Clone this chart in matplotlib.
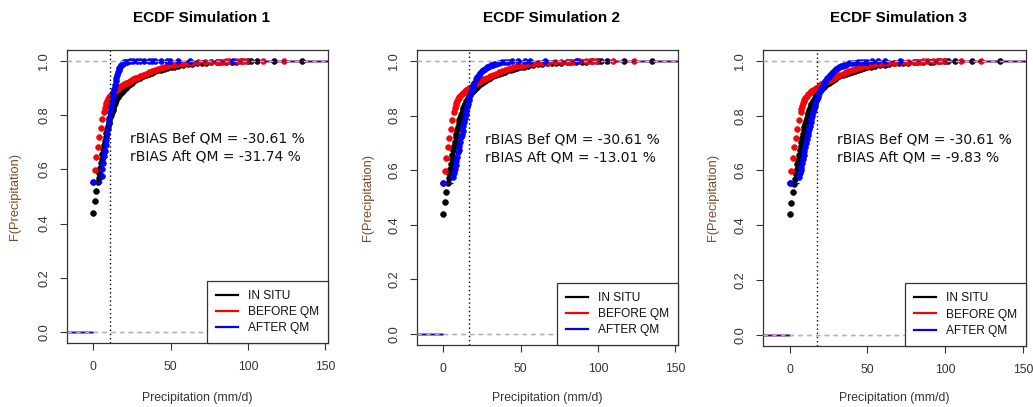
import matplotlib
matplotlib.use("Agg")
import matplotlib.pyplot as plt
from matplotlib.lines import Line2D

plt.rcParams['font.family'] = ['Liberation Sans', 'DejaVu Sans']

# ---------------- data ----------------
titles = ["ECDF Simulation 1", "ECDF Simulation 2", "ECDF Simulation 3"]
legend_labels = ["IN SITU", "BEFORE QM", "AFTER QM"]
series_colors = ["#000000", "#FF0000", "#0000FF"]

# IN SITU ECDF knots (same in every panel)
insitu_x = [0, 1, 2, 3, 3.5, 4, 4.5, 5, 5.5, 6, 6.5, 7, 7.5, 8, 8.5, 9, 9.5, 10,
            10.5, 11, 11.5, 12, 12.5, 13, 13.5, 14, 15, 16, 17, 18, 19, 20, 21,
            22, 23, 24, 25, 26, 27, 28, 29, 30, 32, 34, 36, 38, 40, 42, 44, 46,
            48, 50, 52, 55, 58, 61, 64, 67, 70, 73, 76, 80, 82, 86, 90, 92, 96,
            100, 102, 106, 117, 135]
insitu_F = [0.440, 0.483, 0.521, 0.552, 0.570, 0.588, 0.605, 0.622, 0.640, 0.657,
            0.674, 0.690, 0.705, 0.720, 0.734, 0.747, 0.759, 0.771, 0.782, 0.792,
            0.802, 0.811, 0.820, 0.828, 0.836, 0.843, 0.855, 0.865, 0.874, 0.882,
            0.889, 0.895, 0.901, 0.906, 0.911, 0.916, 0.920, 0.924, 0.928, 0.932,
            0.935, 0.938, 0.944, 0.949, 0.953, 0.957, 0.961, 0.965, 0.968, 0.971,
            0.974, 0.977, 0.979, 0.982, 0.985, 0.987, 0.989, 0.991, 0.992, 0.993,
            0.994, 0.995, 0.996, 0.9965, 0.997, 0.9975, 0.998, 0.9985, 0.999,
            0.9995, 0.9998, 1.0]

# BEFORE QM ECDF knots (same in every panel)
before_x = [0, 1, 2, 3, 4, 5, 6, 7, 7.5, 8, 8.5, 9, 9.5, 10, 10.5, 11, 12, 13,
            14, 15, 16, 17, 18, 19, 20, 21, 22, 23, 24, 25, 26, 27, 28, 30, 32,
            34, 36, 38, 40, 42, 44, 46, 48, 50, 52, 55, 58, 61, 64, 68, 72, 76,
            80, 82, 84, 86, 88, 92, 95, 97, 99, 110, 123]
before_F = [0.553, 0.598, 0.645, 0.684, 0.719, 0.752, 0.785, 0.813, 0.826, 0.837,
            0.846, 0.853, 0.859, 0.864, 0.868, 0.872, 0.878, 0.884, 0.889, 0.894,
            0.898, 0.902, 0.906, 0.910, 0.914, 0.917, 0.920, 0.923, 0.926, 0.929,
            0.932, 0.935, 0.938, 0.943, 0.948, 0.953, 0.958, 0.962, 0.966, 0.970,
            0.974, 0.977, 0.980, 0.983, 0.985, 0.988, 0.990, 0.992, 0.993, 0.994,
            0.995, 0.996, 0.9965, 0.997, 0.9975, 0.998, 0.9985, 0.999, 0.9992,
            0.9994, 0.9996, 0.9998, 1.0]

# AFTER QM ECDF knots, one list per simulation
after1_x = [0, 5.5, 6, 6.5, 7, 7.5, 8, 8.5, 9, 9.5, 10, 10.5, 11, 11.5, 12, 12.5,
            13, 13.5, 14, 14.5, 15, 15.5, 16, 16.5, 17, 17.5, 18, 19, 20, 21, 22,
            24, 26, 28, 30, 33, 36, 38, 40, 44, 47.5, 49.6, 55, 62.6, 90.4]
after1_F = [0.553, 0.575, 0.600, 0.625, 0.648, 0.668, 0.690, 0.710, 0.730, 0.750,
            0.770, 0.790, 0.810, 0.830, 0.848, 0.866, 0.882, 0.897, 0.912, 0.925,
            0.937, 0.948, 0.958, 0.966, 0.973, 0.979, 0.984, 0.990, 0.994, 0.996,
            0.997, 0.998, 0.9984, 0.9987, 0.999, 0.9992, 0.9994, 0.9995, 0.9996,
            0.9997, 0.9998, 0.9998, 0.9999, 0.9999, 1.0]

after2_x = [0, 6.5, 7, 7.5, 8, 8.5, 9, 9.5, 10, 10.5, 11, 11.5, 12, 12.5, 13, 13.5,
            14, 14.5, 15, 15.5, 16, 16.5, 17, 17.5, 18, 18.5, 19, 19.5, 20, 21, 22,
            23, 24, 25, 26, 27, 28, 29, 30, 31, 32, 33, 34, 35.8, 38, 40, 42, 44.4,
            48.6, 52.9, 56.1, 65.8, 86.2]
after2_F = [0.553, 0.575, 0.590, 0.605, 0.620, 0.635, 0.650, 0.665, 0.675, 0.690,
            0.705, 0.720, 0.730, 0.745, 0.760, 0.775, 0.790, 0.805, 0.818, 0.830,
            0.843, 0.856, 0.867, 0.877, 0.887, 0.896, 0.905, 0.913, 0.920, 0.932,
            0.942, 0.950, 0.957, 0.963, 0.967, 0.972, 0.976, 0.979, 0.982, 0.984,
            0.986, 0.988, 0.990, 0.993, 0.995, 0.996, 0.997, 0.998, 0.998, 0.999,
            0.999, 0.9995, 1.0]

after3_x = [0, 6, 6.5, 7, 7.5, 8, 8.5, 9, 9.5, 10, 10.5, 11, 11.5, 12, 12.5, 13,
            13.5, 14, 14.5, 15, 15.5, 16, 16.5, 17, 17.5, 18, 18.5, 19, 19.5, 20,
            21, 22, 23, 24, 25, 26, 27, 28, 29, 30, 31, 32, 33, 34, 35, 36, 38, 40,
            42, 44, 46, 48, 50, 53, 57, 61.4, 71]
after3_F = [0.553, 0.575, 0.590, 0.600, 0.613, 0.628, 0.643, 0.658, 0.672, 0.686,
            0.700, 0.714, 0.728, 0.740, 0.752, 0.764, 0.776, 0.789, 0.800, 0.812,
            0.823, 0.834, 0.844, 0.853, 0.860, 0.868, 0.876, 0.883, 0.890, 0.896,
            0.906, 0.918, 0.927, 0.936, 0.943, 0.950, 0.955, 0.961, 0.966, 0.970,
            0.974, 0.977, 0.980, 0.983, 0.985, 0.987, 0.991, 0.993, 0.994, 0.995,
            0.996, 0.997, 0.997, 0.998, 0.998, 0.999, 1.0]

after_x = [after1_x, after2_x, after3_x]
after_F = [after1_F, after2_F, after3_F]

vline_x = [11.0, 16.9, 17.5]
rbias_bef = ["-30.61", "-30.61", "-30.61"]
rbias_aft = ["-31.74", "-13.01", "-9.83"]

# ---------------- layout ----------------
W, H = 1033, 407
fig = plt.figure(figsize=(W / 100, H / 100), dpi=100)

# axes boxes in pixels: left, right, top, bottom
boxes = [(66.7, 328.0, 50.0, 343.0),
         (416.7, 678.0, 50.0, 345.0),
         (763.0, 1025.7, 50.0, 345.7)]
ylabel_px = [15.0, 368.3, 713.3]
text_x = [23.7, 26.8, 30.4]

XLIM = (-17.1, 151.7)
YLIM = (-0.04, 1.04)
tick_col = "#333333"
ylab_col = "#7A4A28"


def draw_ecdf(ax, xs, Fs, color, z):
    xe = [XLIM[0]] + list(xs) + [XLIM[1]]
    Fe = [0.0] + list(Fs) + [1.0]
    ax.hlines(Fe[:-1], xe[:-1], xe[1:], colors=color, linewidth=1.0, zorder=z)
    ax.plot(xs, Fs, linestyle="none", marker="o", markersize=4.2,
            markerfacecolor=color, markeredgecolor=color, markeredgewidth=0.4,
            zorder=z + 0.1)
    for yv in (0, 1):
        ax.axhline(yv, color="#B3B3B3", linestyle=(0, (3.5, 3.5)),
                   linewidth=0.9, zorder=z + 0.2)


for i in range(3):
    l, r, t, b = boxes[i]
    ax = fig.add_axes([l / W, (H - b) / H, (r - l) / W, (b - t) / H])
    ax.set_xlim(*XLIM)
    ax.set_ylim(*YLIM)

    draw_ecdf(ax, insitu_x, insitu_F, series_colors[0], 2)
    draw_ecdf(ax, before_x, before_F, series_colors[1], 3)
    draw_ecdf(ax, after_x[i], after_F[i], series_colors[2], 4)

    ax.axvline(vline_x[i], color="black", linestyle=(0, (1, 2)),
               linewidth=1.0, zorder=6)

    ax.text(text_x[i], 0.712, "rBIAS Bef QM = " + rbias_bef[i] + " %",
            family="DejaVu Sans", fontsize=10.0, color="#111111",
            ha="left", va="center", zorder=7)
    ax.text(text_x[i], 0.646, "rBIAS Aft QM = " + rbias_aft[i] + " %",
            family="DejaVu Sans", fontsize=10.0, color="#111111",
            ha="left", va="center", zorder=7)

    ax.set_xticks([0, 50, 100, 150])
    ax.set_yticks([0.0, 0.2, 0.4, 0.6, 0.8, 1.0])
    ax.set_yticklabels(["0.0", "0.2", "0.4", "0.6", "0.8", "1.0"])
    ax.tick_params(axis="both", direction="out", length=5, width=0.8,
                   color=tick_col, labelcolor=tick_col, pad=7)
    ax.tick_params(axis="x", pad=8, labelsize=8.8)
    ax.tick_params(axis="y", labelsize=9.2)
    for lab in ax.get_yticklabels():
        lab.set_rotation(90)
        lab.set_va("center")
    for sp in ax.spines.values():
        sp.set_color(tick_col)
        sp.set_linewidth(0.9)

    ax.set_xlabel("Precipitation (mm/d)", fontsize=8.8, color=tick_col)
    ax.xaxis.set_label_coords(0.5, -(398 - b) / (b - t))
    ax.xaxis.label.set_va("center")
    ax.set_ylabel("F(Precipitation)", fontsize=9.3, color=ylab_col)
    ax.yaxis.set_label_coords((ylabel_px[i] - l) / (r - l), 0.5)
    ax.yaxis.label.set_va("center")

    ax.text(0.515, 1 + (t - 18) / (b - t), titles[i], transform=ax.transAxes,
            fontsize=11, fontweight="bold", ha="center", va="center",
            color="black")

    handles = [Line2D([], [], color=c, linewidth=1.6) for c in series_colors]
    leg = ax.legend(handles, legend_labels, loc="lower right",
                    bbox_to_anchor=(1, 0), borderaxespad=0, fontsize=8.6,
                    frameon=True, fancybox=False, framealpha=1,
                    handlelength=1.82, handletextpad=0.84, labelspacing=0.35,
                    borderpad=0.75)
    leg.get_frame().set_edgecolor(tick_col)
    leg.get_frame().set_linewidth(0.9)
    leg.set_zorder(8)
    for txt in leg.get_texts():
        txt.set_color("#111111")

fig.savefig("out.png", dpi=100, facecolor="white")
